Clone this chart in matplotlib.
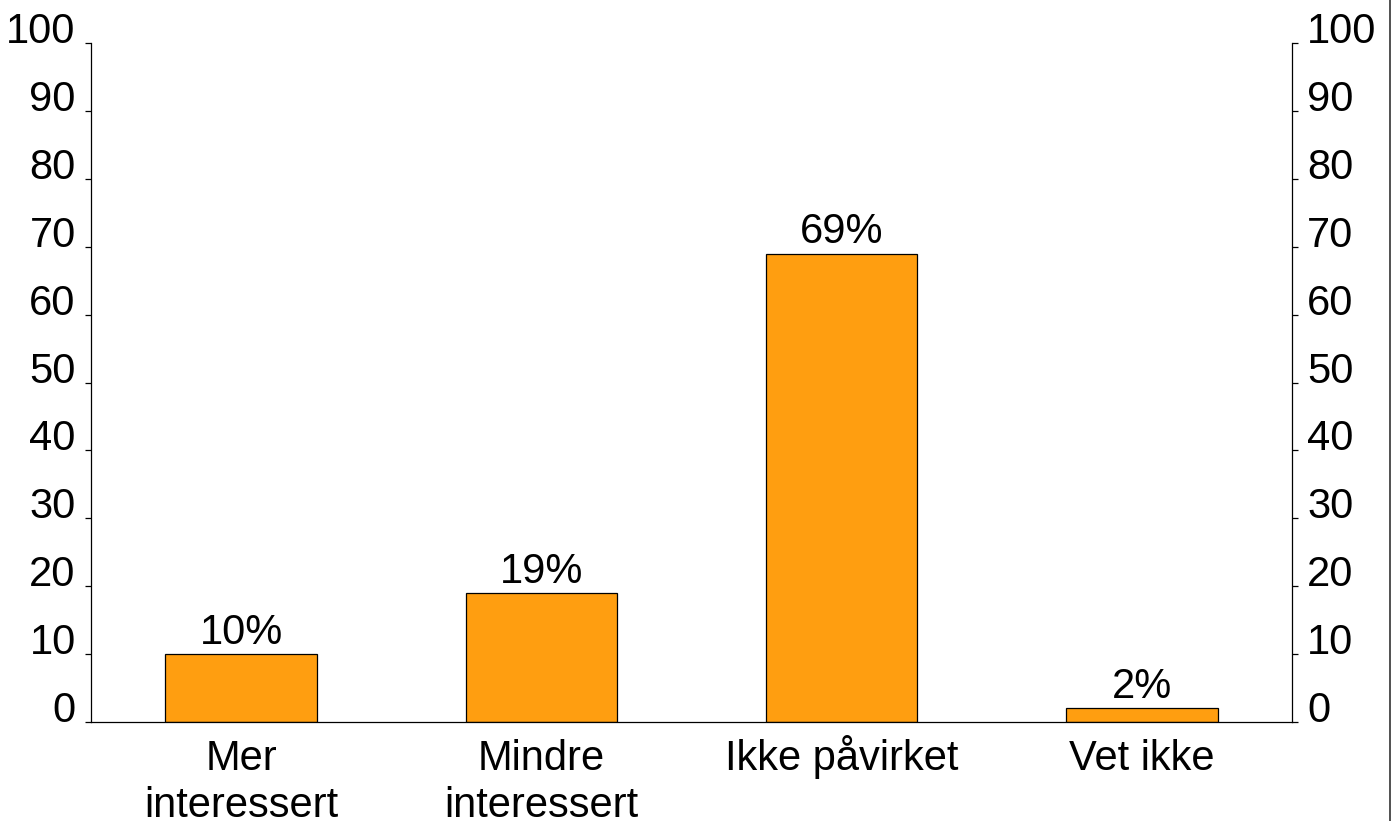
import matplotlib
matplotlib.use("Agg")
import matplotlib.pyplot as plt
from matplotlib.lines import Line2D

# data
categories = ["Mer\ninteressert", "Mindre\ninteressert", "Ikke påvirket", "Vet ikke"]
values = [10, 19, 69, 2]
yticks = list(range(0, 101, 10))

plt.rcParams['font.family'] = ['Liberation Sans', 'DejaVu Sans']
FS = 30

fig = plt.figure(figsize=(13.93, 8.21), dpi=100)
ax = fig.add_axes([0.0653, 0.1206, 0.8622, 0.8270])

x = list(range(len(categories)))
bars = ax.bar(x, values, width=0.505, color='#FF9E10', edgecolor='black', linewidth=0.9)

for b, v in zip(bars, values):
    ax.annotate(f"{v}%", (b.get_x() + b.get_width() / 2, v), xytext=(0, 1),
                textcoords='offset points', ha='center', va='bottom', fontsize=FS)

ax.set_xlim(-0.5, 3.5)
ax.set_ylim(0, 100)
ax.set_yticks(yticks)
ax.set_xticks(x)
ax.set_xticklabels([])
ax.tick_params(axis='x', length=0)

# category labels, one text per line so every first line sits on the same baseline
for xi, cat in zip(x, categories):
    for k, line in enumerate(cat.split("\n")):
        ax.annotate(line, (xi, 0), xycoords=('data', 'axes fraction'),
                    xytext=(0, -34.5 - 34 * k), textcoords='offset points',
                    ha='center', va='baseline', fontsize=FS, annotation_clip=False)

ax.tick_params(axis='y', which='both', direction='out', length=4.5, width=0.9,
               labelsize=FS, pad=6.5, left=True, right=True, labelleft=True, labelright=True)
for t in ax.yaxis.get_major_ticks():
    t.label1.set_va('baseline')
    t.label2.set_va('baseline')

ax.spines['top'].set_visible(False)
for s in ['left', 'right', 'bottom']:
    ax.spines[s].set_linewidth(0.9)

# thin frame line at right edge of the image
fig.add_artist(Line2D([1390 / 1393, 1390 / 1393], [0, 1], transform=fig.transFigure,
                      color='#333333', linewidth=1.2))

fig.savefig("out.png", dpi=100)
